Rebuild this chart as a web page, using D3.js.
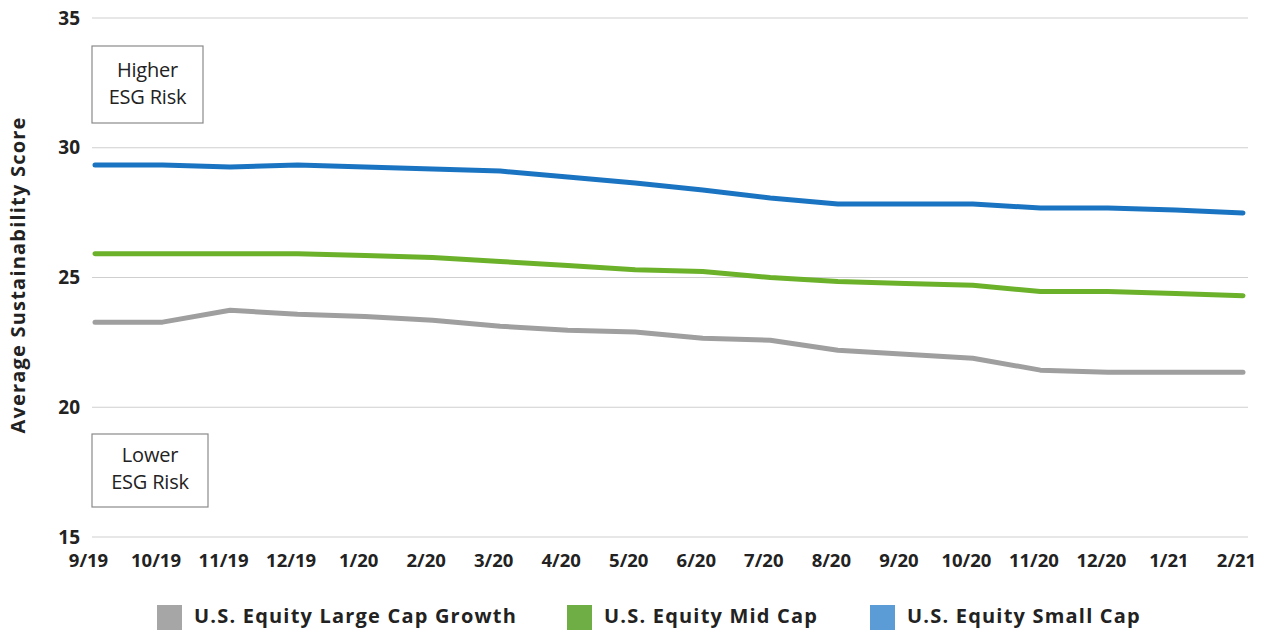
<!DOCTYPE html>
<html>
<head>
<meta charset="utf-8">
<script src="https://cdn.jsdelivr.net/npm/d3@7"></script>
<style>
  html, body { margin: 0; padding: 0; background: #fff; }
  svg { display: block; font-family: "Open Sans", "Noto Sans", sans-serif; }
</style>
</head>
<body>
<svg id="chart" width="1267" height="632"></svg>
<script>
// Monthly periods on the x axis
const months = ["9/19","10/19","11/19","12/19","1/20","2/20","3/20","4/20","5/20","6/20",
                "7/20","8/20","9/20","10/20","11/20","12/20","1/21","2/21"];

// Average sustainability score per fund group
const largeCapGrowth = [23.28,23.28,23.74,23.58,23.50,23.35,23.12,22.97,22.90,22.66,
                        22.58,22.20,22.04,21.89,21.43,21.35,21.35,21.35];
const midCap         = [25.92,25.92,25.92,25.92,25.85,25.77,25.62,25.46,25.30,25.23,
                        25.00,24.85,24.77,24.70,24.46,24.46,24.38,24.30];
const smallCap       = [29.34,29.34,29.26,29.34,29.26,29.18,29.10,28.87,28.64,28.37,
                        28.06,27.83,27.83,27.83,27.68,27.68,27.60,27.49];

const yTicks = [15, 20, 25, 30, 35];

const seriesNames  = ["U.S. Equity Large Cap Growth", "U.S. Equity Mid Cap", "U.S. Equity Small Cap"];
const lineColors   = ["#9f9f9f", "#6cb12a", "#1b74c2"];
const legendColors = ["#a6a6a6", "#6fae45", "#5b9bd6"];
const seriesValues = [largeCapGrowth, midCap, smallCap];

const svg = d3.select("#chart");

const x = d3.scalePoint().domain(months).range([95, 1243]);
const y = d3.scaleLinear().domain([15, 35]).range([537, 18]);

// Horizontal gridlines with value labels
const yAxis = d3.axisLeft(y).tickValues(yTicks).tickSize(0).tickPadding(0);
const gy = svg.append("g").attr("transform", "translate(80,0)").call(yAxis);
gy.select(".domain").remove();
gy.selectAll("text")
  .attr("font-size", 19).attr("font-weight", 700).attr("fill", "#222")
  .attr("font-family", "'Open Sans', sans-serif").attr("letter-spacing", 0);

svg.append("g").selectAll("line").data(yTicks).join("line")
  .attr("x1", 92).attr("x2", 1248)
  .attr("y1", d => y(d)).attr("y2", d => y(d))
  .attr("stroke", "#cfcfcf").attr("stroke-width", 1.2);

// Month labels under the plot
const xAxis = d3.axisBottom(x).tickSize(0).tickPadding(0);
const gx = svg.append("g").attr("transform", "translate(-7,567)").call(xAxis);
gx.select(".domain").remove();
gx.selectAll("text")
  .attr("y", 0).attr("dy", 0)
  .attr("font-size", 18.5).attr("font-weight", 700).attr("fill", "#222")
  .attr("font-family", "'Open Sans', sans-serif").attr("letter-spacing", 0);

// Y axis title
svg.append("text")
  .attr("transform", "translate(25,275) rotate(-90)")
  .attr("text-anchor", "middle")
  .attr("font-size", 20).attr("font-weight", 700).attr("fill", "#222")
  .attr("letter-spacing", 1.2)
  .text("Average Sustainability Score");

// Risk annotation boxes
const boxes = [
  { x: 92, y: 46, w: 111, h: 77, base: 31, lines: ["Higher", "ESG Risk"] },
  { x: 92, y: 434, w: 116, h: 73, base: 28, lines: ["Lower", "ESG Risk"] }
];
boxes.forEach(b => {
  svg.append("rect")
    .attr("x", b.x).attr("y", b.y).attr("width", b.w).attr("height", b.h)
    .attr("fill", "#fff").attr("stroke", "#8a8a8a").attr("stroke-width", 1.2);
  b.lines.forEach((t, i) => {
    svg.append("text")
      .attr("x", b.x + b.w / 2).attr("y", b.y + b.base + i * 26.5)
      .attr("text-anchor", "middle")
      .attr("font-size", 20).attr("fill", "#222")
      .attr("letter-spacing", -0.2)
      .text(t);
  });
});

// Series lines
const line = d3.line().x((d, i) => x(months[i])).y(d => y(d));
seriesValues.forEach((vals, k) => {
  svg.append("path")
    .datum(vals)
    .attr("d", line)
    .attr("fill", "none")
    .attr("stroke", lineColors[k])
    .attr("stroke-width", 5)
    .attr("stroke-linejoin", "round")
    .attr("stroke-linecap", "round");
});

// Legend
const legendX = [157, 567, 870];
const legend = svg.append("g");
seriesNames.forEach((name, k) => {
  legend.append("rect")
    .attr("x", legendX[k]).attr("y", 605).attr("width", 25).attr("height", 25)
    .attr("fill", legendColors[k]);
  legend.append("text")
    .attr("x", legendX[k] + 37).attr("y", 623)
    .attr("font-size", 20).attr("font-weight", 700).attr("fill", "#222")
    .attr("letter-spacing", 1.2)
    .text(name);
});
</script>
</body>
</html>
